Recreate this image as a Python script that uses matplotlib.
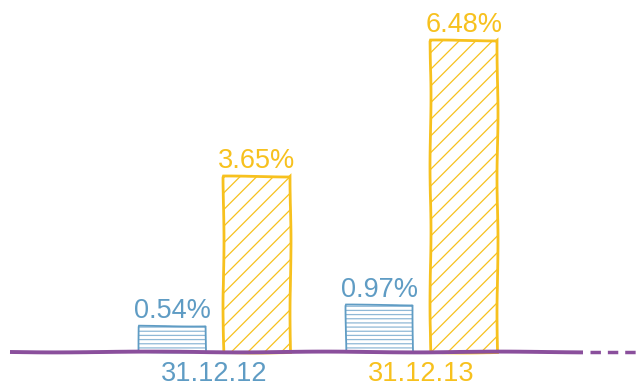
import matplotlib
matplotlib.use("Agg")
import matplotlib.pyplot as plt
import numpy as np

dates = ["31.12.12", "31.12.13"]
series_a = [0.54, 0.97]
series_b = [3.65, 6.48]

blue = "#5f9cc4"
blue_hatch = "#8fb8d6"
yellow = "#f7c11e"
purple = "#8a4f9c"

plt.rcParams["font.family"] = ["Liberation Sans", "DejaVu Sans"]
plt.rcParams["hatch.linewidth"] = 0.9

fig = plt.figure(figsize=(6.36, 3.87), dpi=100)
ax = fig.add_axes([0, 0, 1, 1])
ax.set_xlim(-1.036, 2.036)
ax.set_ylim(-0.728, 7.318)
ax.axis("off")

x = np.arange(len(dates))
w = 0.324
off = 0.205


def sketch_bars(xs, vals, color, hatch_color, hatch, lw):
    fills = ax.bar(xs, vals, w, color="none", edgecolor=hatch_color,
                   hatch=hatch, linewidth=0)
    outl = ax.bar(xs, vals, w, fill=False, edgecolor=color, linewidth=lw)
    for p in list(fills) + list(outl):
        p.set_sketch_params(scale=0.5, length=150, randomness=2)
    return outl


sketch_bars(x - off, series_a, blue, blue_hatch, "----", 1.3)
sketch_bars(x + off, series_b, yellow, yellow, "//", 2.0)

for xi, v in zip(x - off, series_a):
    ax.text(xi, v + 0.05, f"{v:.2f}%", ha="center", va="bottom",
            fontsize=19.5, color=blue)
for xi, v in zip(x + off, series_b):
    ax.text(xi, v + 0.05, f"{v:.2f}%", ha="center", va="bottom",
            fontsize=19.5, color=yellow)

# baseline
base, = ax.plot([10 / 636, 583 / 636], [35 / 387, 35 / 387],
                transform=ax.transAxes, color=purple, lw=2.8,
                solid_capstyle="butt")
base.set_sketch_params(scale=0.4, length=200, randomness=2)
ax.plot([590 / 636, 636 / 636], [35 / 387, 35 / 387], transform=ax.transAxes,
        color=purple, lw=2.5, linestyle=(0, (3, 2)))

for xi, d, c in zip(x, dates, [blue, yellow]):
    ax.text(xi, -0.18, d, ha="center", va="top", fontsize=19.5, color=c)

fig.savefig("out.png", dpi=100)
